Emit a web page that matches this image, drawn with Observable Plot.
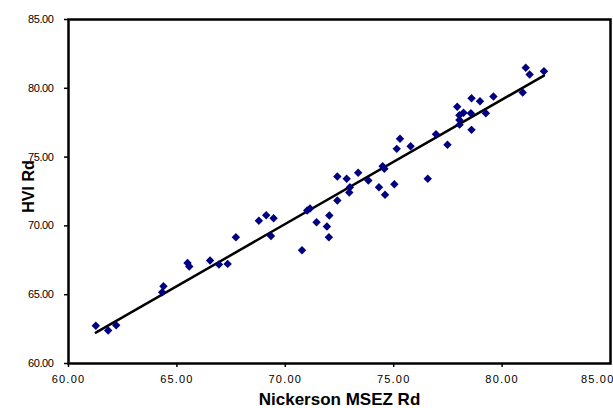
<!DOCTYPE html>
<html>
<head>
<meta charset="utf-8">
<script src="https://cdn.jsdelivr.net/npm/d3@7"></script>
<script src="https://cdn.jsdelivr.net/npm/@observablehq/plot@0.6"></script>
<style>
  html, body { margin: 0; padding: 0; background: #fff; }
  #chart svg { display: block; }
  #chart g[aria-label="x-axis tick label"] text { letter-spacing: 1.2px; }
  #chart g[aria-label="y-axis tick label"] text { letter-spacing: -0.4px; }
</style>
</head>
<body>
<div id="chart"></div>
<script>
const nickerson = [61.26, 61.83, 62.20, 64.32, 64.38, 65.49, 65.57, 66.53, 66.94, 67.34,
  67.72, 68.78, 69.12, 69.46, 69.34, 70.77, 71.01, 71.14, 71.44, 72.03,
  71.92, 72.01, 72.40, 72.40, 72.83, 73.36, 72.98, 72.95, 73.83, 74.32,
  74.49, 74.57, 74.60, 75.03, 75.14, 75.29, 75.78, 76.57, 76.95, 77.48,
  77.93, 78.59, 78.98, 79.60, 80.95, 78.22, 78.03, 78.56, 79.25, 78.03,
  78.04, 78.59, 81.09, 81.27, 81.93];
const hvi = [62.74, 62.40, 62.78, 65.18, 65.62, 67.30, 67.05, 67.49, 67.19, 67.24,
  69.18, 70.37, 70.78, 70.56, 69.26, 68.23, 71.12, 71.26, 70.27, 70.76,
  69.96, 69.18, 71.85, 73.59, 73.42, 73.86, 72.81, 72.43, 73.30, 72.81,
  74.34, 74.15, 72.26, 73.03, 75.60, 76.33, 75.79, 73.42, 76.66, 75.90,
  78.66, 79.28, 79.06, 79.40, 79.70, 78.22, 78.04, 78.19, 78.19, 77.70,
  77.36, 76.98, 81.49, 81.00, 81.24];
const xTicks = [60, 65, 70, 75, 80, 85];
const yTicks = [60, 65, 70, 75, 80, 85];
const xTitle = "Nickerson MSEZ Rd";
const yTitle = "HVI Rd";

const data = nickerson.map((x, i) => ({x, y: hvi[i]}));
const fmt = d3.format(".2f");

const chart = Plot.plot({
  width: 613,
  height: 408,
  marginLeft: 68,
  marginRight: 3,
  marginTop: 19,
  marginBottom: 45,
  style: {fontFamily: "'Liberation Sans', Arial, sans-serif", fontSize: "11px", color: "#000", background: "#fff"},
  x: {domain: [60, 85]},
  y: {domain: [60, 85]},
  marks: [
    Plot.axisX({ticks: xTicks.slice(0, -1), tickFormat: fmt, tickSize: 4, tickPadding: 8, label: null, fontSize: 11, strokeWidth: 1.5}),
    Plot.axisX({ticks: xTicks.slice(-1), tickFormat: fmt, tickSize: 4, tickPadding: 8, label: null, fontSize: 11, strokeWidth: 1.5, textAnchor: "end", dx: 4}),
    Plot.axisY({ticks: yTicks, tickFormat: fmt, tickSize: 4, tickPadding: 11, label: null, fontSize: 11, strokeWidth: 1.5}),
    Plot.linearRegressionY(data, {x: "x", y: "y", stroke: "#000", strokeWidth: 2.5, ci: 0}),
    Plot.dot(data, {x: "x", y: "y", symbol: "diamond2", fill: "#000080", r: 3.8}),
    Plot.frame({stroke: "#000", strokeWidth: 2.5}),
    Plot.text([xTitle], {text: d => d, frameAnchor: "bottom", lineAnchor: "top", textAnchor: "middle", dy: 29, fontWeight: "bold", fontSize: 17, letterSpacing: 2}),
    Plot.text([yTitle], {text: d => d, frameAnchor: "left", textAnchor: "middle", lineAnchor: "middle", dx: -40, dy: -5, rotate: -90, fontWeight: "bold", fontSize: 16})
  ]
});
document.getElementById("chart").appendChild(chart);
</script>
</body>
</html>
